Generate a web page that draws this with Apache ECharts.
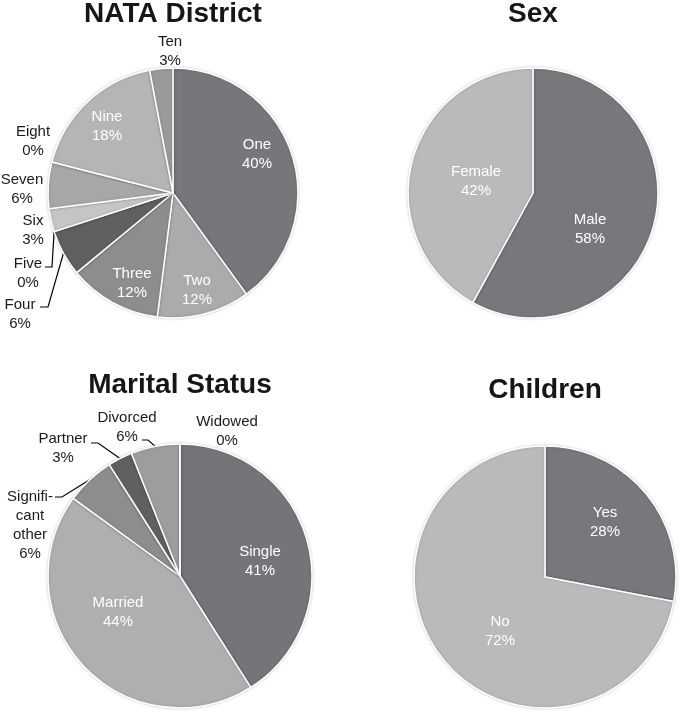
<!DOCTYPE html>
<html>
<head>
<meta charset="utf-8">
<script src="https://cdn.jsdelivr.net/npm/echarts@6/dist/echarts.min.js"></script>
<style>
html,body{margin:0;padding:0;background:#fff;}
#chart{width:681px;height:715px;}
</style>
</head>
<body>
<div id="chart"></div>
<script>
// ---- data ----
const nataCategories = ['One','Two','Three','Four','Five','Six','Seven','Eight','Nine','Ten'];
const nataValues = [40,12,12,6,0,3,6,0,18,3];
const sexCategories = ['Male','Female'];
const sexValues = [58,42];
const maritalCategories = ['Single','Married','Significant other','Partner','Divorced','Widowed'];
const maritalValues = [41,44,6,3,6,0];
const childrenCategories = ['Yes','No'];
const childrenValues = [28,72];
const titles = ['NATA District','Sex','Marital Status','Children'];

// ---- layout / style (not data) ----
const displayNames = {'Significant other':'Signifi-\ncant\nother'};
const FONT = '"Liberation Sans", Arial, sans-serif';
const pies = [
  {cats:nataCategories, vals:nataValues, cx:173, cy:193, r:125, titleTop:0,
   colors:['#76777a','#ababad','#8c8d8f','#5f6062','#6f7072','#c4c5c7','#a6a7a9','#b0b1b3','#b4b5b7','#999a9c'],
   labels:[[257,154,1],[197,290,1],[132,283,1],[20,314,0],[28,273,0],[33,230,0],[22,189,0],[33,141,0],[107,126,1],[170,51,0]],
   leaders:{3:[[48,307],[40,307]],4:[[52,267],[45,267]]}},
  {cats:sexCategories, vals:sexValues, cx:533, cy:193, r:125, titleTop:0,
   colors:['#77787b','#b9babc'],
   labels:[[590,229,1],[476,181,1]], leaders:{}},
  {cats:maritalCategories, vals:maritalValues, cx:180, cy:576, r:132, titleTop:371,
   colors:['#747578','#aeafb1','#8c8d8f','#5f6062','#9c9d9f','#b0b1b3'],
   labels:[[260,561,1],[118,612,1],[30,525,0],[63,448,0],[127,427,0],[227,431,0]],
   leaders:{2:[[62,497],[55,497]],3:[[98,443],[91,443]],4:[[148,440],[142,440]]}},
  {cats:childrenCategories, vals:childrenValues, cx:545, cy:577, r:131, titleTop:376,
   colors:['#77787b','#b9babc'],
   labels:[[605,522,1],[500,631,1]], leaders:{}}
];

function edgePoint(p, i){
  const total = p.vals.reduce((a,b)=>a+b,0);
  let cum = 0; for(let k=0;k<i;k++) cum += p.vals[k];
  const th = (cum + p.vals[i]/2)/total*2*Math.PI;
  return [p.cx + p.r*Math.sin(th), p.cy - p.r*Math.cos(th)];
}

const chart = echarts.init(document.getElementById('chart'), null, {renderer:'canvas'});
const option = {
  animation:false,
  backgroundColor:'#fff',
  title: pies.map((p,s)=>({
    text:titles[s], left:p.cx, top:p.titleTop, textAlign:'center', padding:0,
    textStyle:{fontFamily:FONT, fontWeight:'bold', fontSize:28, color:'#161616'}
  })),
  series: pies.map((p,s)=>({
    type:'pie',
    center:[p.cx,p.cy],
    radius:[0,p.r],
    startAngle:90,
    clockwise:true,
    avoidLabelOverlap:false,
    minShowLabelAngle:0,
    silent:true,
    itemStyle:{borderColor:'#ffffff', borderWidth:1.5, shadowBlur:3, shadowColor:'rgba(0,0,0,0.18)'},
    label:{fontFamily:FONT, fontSize:15, lineHeight:19, align:'center',
      formatter:(d)=>(displayNames[d.name]||d.name)+'\n'+d.value+'%'},
    labelLine:{lineStyle:{color:'#000000', width:1.2, shadowBlur:0}, length:5, length2:5},
    labelLayout:(params)=>{
      const i = params.dataIndex;
      const L = p.labels[i];
      const out = {x:L[0], y:L[1], align:'center', verticalAlign:'middle'};
      if(p.leaders[i]){
        out.labelLinePoints = [edgePoint(p,i), p.leaders[i][0], p.leaders[i][1]];
      }
      return out;
    },
    data: p.cats.map((c,i)=>({
      name:c, value:p.vals[i],
      itemStyle:{color:p.colors[i]},
      label:{position:p.labels[i][2]?'inside':'outside', color:p.labels[i][2]?'#ffffff':'#1a1a1a'},
      labelLine:{show:!!p.leaders[i], lineStyle:{color:'#000000', width:1.2, shadowBlur:0}}
    }))
  }))
};
chart.setOption(option);
</script>
</body>
</html>
